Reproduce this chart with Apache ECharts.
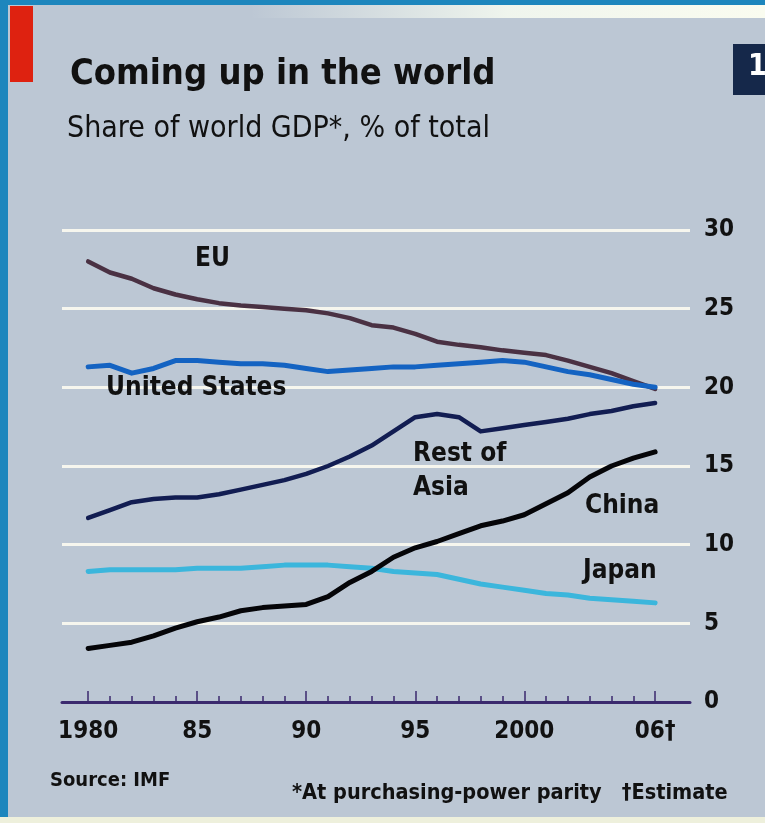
<!DOCTYPE html>
<html>
<head>
<meta charset="utf-8">
<script src="https://cdn.jsdelivr.net/npm/echarts@6/dist/echarts.min.js"></script>
<style>
html,body{margin:0;padding:0;background:#bcc7d4;}
#c{width:765px;height:823px;}
</style>
</head>
<body>
<div id="c"></div>
<script>
// ---- data ----
const years = [1980,1981,1982,1983,1984,1985,1986,1987,1988,1989,1990,1991,1992,1993,1994,1995,1996,1997,1998,1999,2000,2001,2002,2003,2004,2005,2006];
const euShare = [28.0,27.3,26.9,26.3,25.9,25.6,25.35,25.2,25.1,25.0,24.9,24.7,24.4,23.95,23.8,23.4,22.9,22.7,22.55,22.35,22.2,22.05,21.7,21.3,20.9,20.4,19.9];
const usShare = [21.3,21.4,20.9,21.2,21.7,21.7,21.6,21.5,21.5,21.4,21.2,21.0,21.1,21.2,21.3,21.3,21.4,21.5,21.6,21.7,21.6,21.3,21.0,20.8,20.5,20.2,20.0];
const restOfAsiaShare = [11.7,12.2,12.7,12.9,13.0,13.0,13.2,13.5,13.8,14.1,14.5,15.0,15.6,16.3,17.2,18.1,18.3,18.1,17.2,17.4,17.6,17.8,18.0,18.3,18.5,18.8,19.0];
const chinaShare = [3.4,3.6,3.8,4.2,4.7,5.1,5.4,5.8,6.0,6.1,6.2,6.7,7.6,8.3,9.2,9.8,10.2,10.7,11.2,11.5,11.9,12.6,13.3,14.3,15.0,15.5,15.9];
const japanShare = [8.3,8.4,8.4,8.4,8.4,8.5,8.5,8.5,8.6,8.7,8.7,8.7,8.6,8.5,8.3,8.2,8.1,7.8,7.5,7.3,7.1,6.9,6.8,6.6,6.5,6.4,6.3];
const xLabelYears = [1980,1985,1990,1995,2000,2006];
const xLabelTexts = ['1980','85','90','95','2000','06\u2020'];
const yTicks = [0,5,10,15,20,25,30];

const FONT = '"Liberation Sans Narrow","DejaVu Sans Condensed","Liberation Sans",sans-serif';
const pair = arr => years.map((y,i)=>[y,arr[i]]);

const chart = echarts.init(document.getElementById('c'), null, {renderer:'canvas'});
const lineSeries = (name, data, color, width, z) => ({
  name, type:'line', data: pair(data), symbol:'none', smooth:false,
  lineStyle:{color, width, cap:'round', join:'round'}, z: z||3
});

chart.setOption({
  backgroundColor:'#bcc7d4',
  animation:false,
  grid:{left:62, right:75, top:230, bottom:121},
  xAxis:[{
    type:'value', min:1978.8, max:2007.6,
    axisLine:{show:true, lineStyle:{color:'#3b2a6e', width:3}},
    axisTick:{show:true, inside:true, length:6, customValues: years, lineStyle:{color:'#3b2a6e', width:1.5}},
    axisLabel:{show:true, customValues: xLabelYears, margin:18,
      formatter: v => xLabelTexts[xLabelYears.indexOf(v)] || '',
      fontFamily:FONT, fontWeight:'bold', fontSize:24, color:'#111'},
    splitLine:{show:false}
  },{
    type:'value', min:1978.8, max:2007.6, position:'bottom',
    axisLine:{show:false},
    axisTick:{show:true, inside:true, length:11, customValues: xLabelYears, lineStyle:{color:'#3b2a6e', width:1.5}},
    axisLabel:{show:false}, splitLine:{show:false}
  }],
  yAxis:{
    type:'value', position:'right', min:0, max:30, interval:5,
    axisLine:{show:false}, axisTick:{show:false},
    axisLabel:{margin:14, align:'left', fontFamily:FONT, fontWeight:'bold', fontSize:24, color:'#111',
      formatter: v => yTicks.includes(v) ? String(v) : ''},
    splitLine:{show:true, lineStyle:{color:'#f6f6ee', width:3}}
  },
  series:[
    lineSeries('Japan', japanShare, '#3bb6dc', 5, 2),
    lineSeries('EU', euShare, '#4a3143', 4.5),
    lineSeries('United States', usShare, '#1463c2', 5),
    lineSeries('Rest of Asia', restOfAsiaShare, '#121d52', 4.5),
    lineSeries('China', chinaShare, '#050508', 5, 4)
  ],
  graphic:[
    {type:'rect', shape:{x:0,y:0,width:8,height:823}, style:{fill:'#1d86bd'}, z:10},
    {type:'rect', shape:{x:0,y:0,width:765,height:5}, style:{fill:'#1d86bd'}, z:10},
    {type:'rect', shape:{x:250,y:5,width:515,height:13}, style:{fill:new echarts.graphic.LinearGradient(0,0,1,0,[{offset:0,color:'rgba(245,250,240,0)'},{offset:0.5,color:'rgba(245,250,240,0.9)'},{offset:1,color:'rgba(250,252,240,1)'}])}, z:10},
    {type:'rect', shape:{x:10,y:6,width:23,height:76}, style:{fill:'#de2210'}, z:10},
    {type:'rect', shape:{x:733,y:44,width:32,height:51}, style:{fill:'#15284a'}, z:10},
    {type:'text', x:748, y:52, style:{text:'1', fill:'#fff', font:'bold 30px '+FONT}, z:11},
    {type:'rect', shape:{x:0,y:817,width:765,height:6}, style:{fill:'#eef0dc'}, z:10},
    {type:'text', x:70, y:57, style:{text:'Coming up in the world', fill:'#111', font:'bold 36px '+FONT}, z:11},
    {type:'text', x:67, y:114, style:{text:'Share of world GDP*, % of total', fill:'#111', font:'30px '+FONT}, z:11},
    {type:'text', x:195, y:246, style:{text:'EU', fill:'#111', font:'bold 26px '+FONT}, z:11},
    {type:'text', x:106, y:375, style:{text:'United States', fill:'#111', font:'bold 26px '+FONT}, z:11},
    {type:'text', x:413, y:441, style:{text:'Rest of', fill:'#111', font:'bold 26px '+FONT}, z:11},
    {type:'text', x:413, y:475, style:{text:'Asia', fill:'#111', font:'bold 26px '+FONT}, z:11},
    {type:'text', x:585, y:493, style:{text:'China', fill:'#111', font:'bold 26px '+FONT}, z:11},
    {type:'text', x:583, y:558, style:{text:'Japan', fill:'#111', font:'bold 26px '+FONT}, z:11},
    {type:'text', x:50, y:771, style:{text:'Source: IMF', fill:'#111', font:'bold 20px '+FONT}, z:11},
    {type:'text', x:292, y:782, style:{text:'*At purchasing-power parity   \u2020Estimate', fill:'#111', font:'bold 21.5px '+FONT}, z:11}
  ]
});
</script>
</body>
</html>
